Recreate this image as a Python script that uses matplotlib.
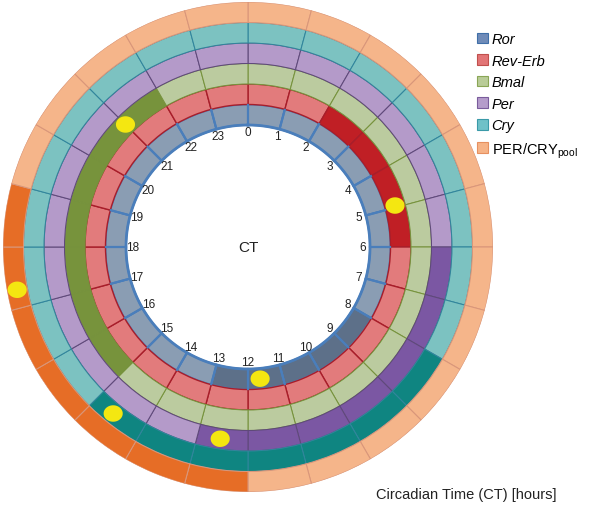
import numpy as np
import matplotlib
matplotlib.use("Agg")
import matplotlib.pyplot as plt
from matplotlib.path import Path
from matplotlib.patches import Patch

plt.rcParams['font.family'] = ['Liberation Sans', 'DejaVu Sans']
plt.rcParams['mathtext.fontset'] = 'custom'
plt.rcParams['mathtext.rm'] = 'Liberation Sans'

# ---- data ----
hours = list(range(24))
genes = ['Ror', 'Rev-Erb', 'Bmal', 'Per', 'Cry', 'PER/CRYpool']
legend_labels = ['Ror', 'Rev-Erb', 'Bmal', 'Per', 'Cry', 'PER/CRY$_{\\rm pool}$']
italic_label = [True, True, True, True, True, False]
high_hours = [
    [8, 9, 10, 11, 12],                 # Ror
    [2, 3, 4, 5],                       # Rev-Erb
    [15, 16, 17, 18, 19, 20, 21],       # Bmal
    [6, 7, 8, 9, 10, 11, 12],           # Per
    [8, 9, 10, 11, 12, 13, 14],         # Cry
    [12, 13, 14, 15, 16, 17, 18],       # PER/CRY pool
]
dot_ct = [11.65, 4.95, 21.0, 12.55, 14.6, 17.3]

light_colors = ['#8A9DB3', '#E27B7C', '#BBCB9F', '#B49AC9', '#7CC2C1', '#F5B58A']
dark_colors = ['#5D7089', '#C01F25', '#77933C', '#7B57A3', '#0F8581', '#E66D26']
line_colors = ['#4A7EBB', '#A81E2A', '#76923C', '#5F497A', '#31859C', '#D9967A']
legend_face = ['#6F8BB8', '#E27576', '#B9CC98', '#B59CCB', '#6FC1C8', '#F6B387']
legend_edge = ['#3F6FA8', '#C0504D', '#8AA656', '#7A5C9C', '#3A9AA8', '#E69060']

# ---- geometry ----
r0 = 122.0
dr = 20.5
step = 2 * np.pi / 24

fig = plt.figure(figsize=(5.91, 5.06), dpi=100)
ax = fig.add_axes([3 / 591, 13 / 506, 490 / 591, 490 / 506], projection='polar')
ax.set_theta_zero_location('N')
ax.set_theta_direction(-1)
ax.set_ylim(0, r0 + 6 * dr)
ax.set_axis_off()

handles = []
for i, g in enumerate(genes):
    theta = [(h + 0.5) * step for h in hours]
    cols = [dark_colors[i] if h in high_hours[i] else light_colors[i] for h in hours]
    lw = 1.4 if i == 0 else (1.0 if i == 1 else 0.75)
    ax.bar(theta, dr, width=step, bottom=r0 + i * dr, color=cols,
           edgecolor=line_colors[i], linewidth=lw, zorder=2 + i * 0.01)
    handles.append(Patch(facecolor=legend_face[i], edgecolor=legend_edge[i],
                         linewidth=0.8, label=legend_labels[i]))

# inner blue circle
tt = np.linspace(0, 2 * np.pi, 500)
ax.plot(tt, np.full_like(tt, r0), color='#4A7EBB', lw=2.0, zorder=4)
# Ror dividers in blue
for h in hours:
    ax.plot([h * step, h * step], [r0, r0 + dr - 0.6], color='#4A7EBB', lw=1.6, zorder=4)

# hour labels
for h in hours:
    ax.text(h * step, 115, str(h), ha='center', va='center', fontsize=8.5,
            color='#222222', zorder=5)

# yellow dots (slightly elliptical)
t = np.linspace(0, 2 * np.pi, 60)
ell = Path(np.column_stack([np.cos(t), 0.86 * np.sin(t)]), closed=True)
ax.scatter([c * step for c in dot_ct], [r0 + (i + 0.5) * dr for i in range(6)],
           marker=ell, s=190, color='#F4E711', edgecolors='none', zorder=6)

ax.text(0, 0, 'CT', ha='center', va='center', fontsize=11, color='#222222')

leg = fig.legend(handles=handles, loc='upper left',
                 bbox_to_anchor=(477 / 591, 1 - 33 / 506),
                 frameon=False, fontsize=10.5, handlelength=0.75, handleheight=0.75,
                 handletextpad=0.25, labelspacing=0.52, borderaxespad=0, borderpad=0)
for txt, it in zip(leg.get_texts(), italic_label):
    if it:
        txt.set_style('italic')

fig.text(466 / 591, 1 - 495 / 506, 'Circadian Time (CT) [hours]', ha='center', va='center',
         fontsize=10.5, color='#222222')

fig.savefig('out.png', dpi=100)
